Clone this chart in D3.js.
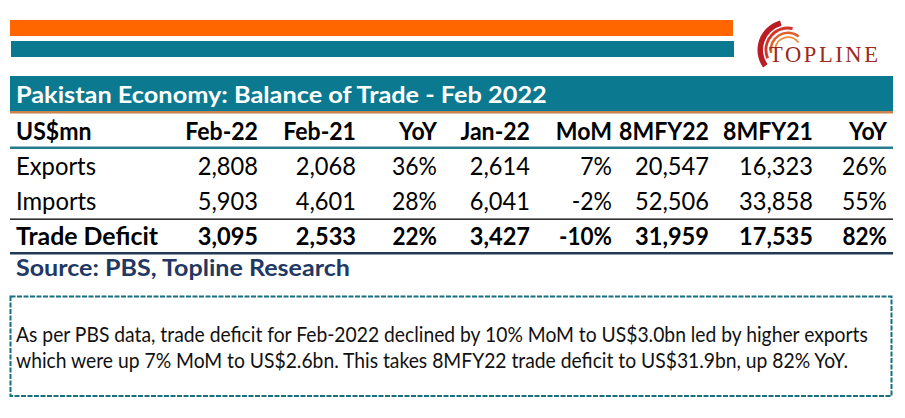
<!DOCTYPE html>
<html>
<head>
<meta charset="utf-8">
<script src="https://cdn.jsdelivr.net/npm/d3@7"></script>
<style>
  html, body { margin: 0; padding: 0; background: #fff; }
  svg { display: block; }
  text { font-family: Lato, "Open Sans", sans-serif; }
</style>
</head>
<body>
<svg id="chart" width="905" height="418"></svg>
<script>
// ---- data ----
const titleText = "Pakistan Economy: Balance of Trade - Feb 2022";
const columns = ["US$mn", "Feb-22", "Feb-21", "YoY", "Jan-22", "MoM", "8MFY22", "8MFY21", "YoY "];
const rowLabels = ["Exports", "Imports", "Trade Deficit"];
const feb22 = [2808, 5903, 3095];
const feb21 = [2068, 4601, 2533];
const yoyMonth = [36, 28, 22];
const jan22 = [2614, 6041, 3427];
const mom = [7, -2, -10];
const fy22 = [20547, 52506, 31959];
const fy21 = [16323, 33858, 17535];
const yoyFy = [26, 55, 82];
const sourceText = "Source: PBS, Topline Research";
const noteLines = [
  "As per PBS data, trade deficit for Feb-2022 declined by 10% MoM to US$3.0bn led by higher exports",
  "which were up 7% MoM to US$2.6bn. This takes 8MFY22 trade deficit to US$31.9bn, up 82% YoY."
];
const logoText = "TOPLINE";

// ---- layout ----
const teal = "#0b7a90";
const orange = "#ff6600";
const navy = "#1f3864";
const svg = d3.select("#chart");

const numFmt = d3.format(",");
const pctFmt = v => v + "%";
const colValues = [feb22, feb21, yoyMonth, jan22, mom, fy22, fy21, yoyFy];
const colFormats = [numFmt, numFmt, pctFmt, numFmt, pctFmt, numFmt, numFmt, pctFmt];
const colIsPct = [false, false, true, false, true, false, false, true];

// column right edges / row baselines via scales
const xCol = d3.scaleOrdinal().domain(columns)
  .range([16, 258, 356, 437, 530, 612, 709, 813, 887]);
const yRow = d3.scalePoint().domain(["header"].concat(rowLabels)).range([140, 244.5]);

// text style fitting (horizontal compression to match the reference's narrow font)
const styles = {
  label:   { size: 25, weight: 400, calib: "Exports", target: 80 },
  labelB:  { size: 25, weight: 700, calib: "Trade Deficit", target: 142 },
  head:    { size: 25, weight: 700, calib: "8MFY22", target: 90 },
  num:     { size: 25, weight: 400, calib: "20,547", target: 74 },
  numB:    { size: 25, weight: 700, calib: "31,959", target: 74 },
  pct:     { size: 25, weight: 400, calib: "36%", target: 45 },
  pctB:    { size: 25, weight: 700, calib: "-10%", target: 53 },
  title:   { size: 22, weight: 700, calib: titleText, target: 531 },
  source:  { size: 23.5, weight: 700, calib: sourceText, target: 334 },
  note:    { size: 21, weight: 400, calib: noteLines[0], target: 852 }
};
Object.values(styles).forEach(s => {
  const t = svg.append("text").attr("font-size", s.size).attr("font-weight", s.weight).text(s.calib);
  const w = t.node().getComputedTextLength();
  s.k = w > 0 ? s.target / w : 1;
  t.remove();
});

function addText(parent, str, x, y, anchor, styleName, fill) {
  const s = styles[styleName];
  return parent.append("text")
    .attr("transform", `translate(${x},${y}) scale(${s.k},1)`)
    .attr("text-anchor", anchor)
    .attr("font-size", s.size)
    .attr("font-weight", s.weight)
    .attr("fill", fill || "#000")
    .text(str);
}

// top bars
svg.append("rect").attr("x", 10).attr("y", 20).attr("width", 723).attr("height", 16).attr("fill", orange);
svg.append("rect").attr("x", 11).attr("y", 41).attr("width", 723).attr("height", 16).attr("fill", teal);

// logo
const logo = svg.append("g").attr("transform", "translate(788,50)");
const arcGen = d3.arc();
const deg = Math.PI / 180;
const swooshes = [
  { r0: 25, r1: 30.5, a0: -125, a1: -15, c: "#b81e24" },
  { r0: 20.5, r1: 23.5, a0: -112, a1: 12, c: "#d2352a" },
  { r0: 16, r1: 18.5, a0: -100, a1: 38, c: "#e2602c" },
  { r0: 12, r1: 13.8, a0: -85, a1: 55, c: "#ee8a3a" }
];
logo.selectAll("path").data(swooshes).join("path")
  .attr("d", d => arcGen({ innerRadius: d.r0, outerRadius: d.r1, startAngle: d.a0 * deg, endAngle: d.a1 * deg }))
  .attr("fill", d => d.c);
svg.append("text")
  .attr("x", 769).attr("y", 62)
  .attr("font-size", 22.5)
  .attr("letter-spacing", 2.6)
  .attr("fill", "#9a2a1c")
  .style("font-family", "'Liberation Serif', 'DejaVu Serif', serif")
  .text(logoText);

// title bar
svg.append("rect").attr("x", 10).attr("y", 76).attr("width", 883).attr("height", 35).attr("fill", teal);
svg.append("rect").attr("x", 10).attr("y", 111).attr("width", 883).attr("height", 2.5).attr("fill", "#c8834f");
addText(svg, titleText, 16, 103, "start", "title", "#fff");

// table rules
svg.append("rect").attr("x", 10).attr("y", 146.5).attr("width", 883).attr("height", 2.5).attr("fill", "#2a7c8c");
svg.append("rect").attr("x", 10).attr("y", 218.5).attr("width", 883).attr("height", 1.3).attr("fill", "#000");
svg.append("rect").attr("x", 10).attr("y", 252).attr("width", 883).attr("height", 2.5).attr("fill", "#203a55");

// header
columns.forEach((c, i) => {
  addText(svg, c.trim(), xCol(c), yRow("header"), i === 0 ? "start" : "end", "head");
});

// body rows
rowLabels.forEach((r, ri) => {
  const bold = ri === 2;
  addText(svg, r, xCol(columns[0]), yRow(r), "start", bold ? "labelB" : "label");
  colValues.forEach((vals, ci) => {
    const st = (colIsPct[ci] ? "pct" : "num") + (bold ? "B" : "");
    addText(svg, colFormats[ci](vals[ri]), xCol(columns[ci + 1]), yRow(r), "end", st);
  });
});

// source
addText(svg, sourceText, 16, 276, "start", "source", navy);

// note box
svg.append("rect").attr("x", 10.5).attr("y", 296.5).attr("width", 881).attr("height", 99.5)
  .attr("fill", "none").attr("stroke", "#17707f").attr("stroke-width", 2)
  .attr("stroke-dasharray", "5,1.5");
const yNote = d3.scalePoint().domain(d3.range(noteLines.length)).range([341.5, 368]);
noteLines.forEach((line, i) => addText(svg, line, 16, yNote(i), "start", "note", "#111"));
</script>
</body>
</html>
